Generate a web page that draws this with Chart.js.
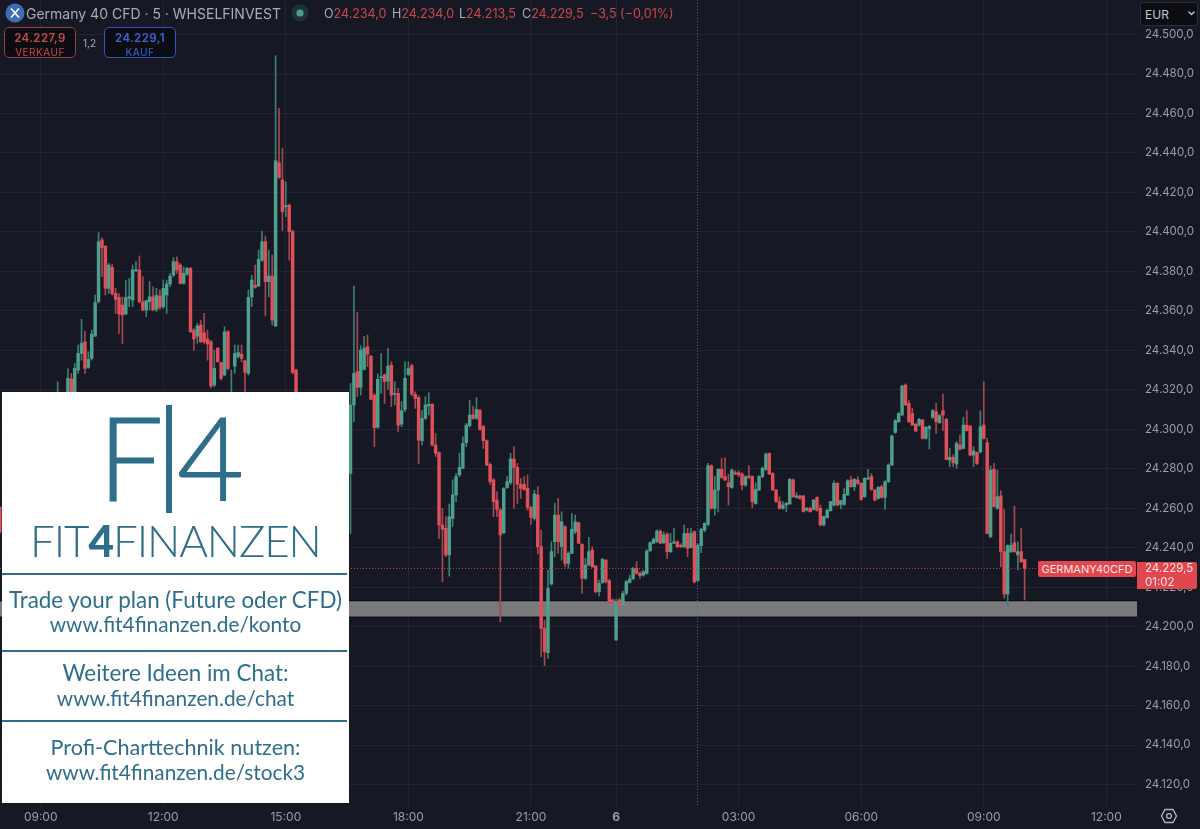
<!DOCTYPE html>
<html>
<head>
<meta charset="utf-8">
<title>Germany 40 CFD</title>
<script src="https://cdn.jsdelivr.net/npm/chart.js@4"></script>
<style>
html, body { margin: 0; padding: 0; background: #161924; }
#wrap { position: relative; width: 1200px; height: 829px; overflow: hidden; font-family: Inter, "Liberation Sans", sans-serif; }
canvas { position: absolute; left: 0; top: 0; }
.abs { position: absolute; white-space: nowrap; }
.red { color: #c9474f; }
.grey { color: #a9adb7; }
.tradebox { position: absolute; top: 27px; width: 70px; height: 29px; border-radius: 5px; background: #0c0d12; text-align: center; }
.tradebox b { display: block; font-size: 11.5px; font-weight: 600; margin-top: 3px; letter-spacing: .4px; }
.tradebox span { display: block; font-size: 10px; margin-top: 1px; letter-spacing: .5px; }
#promo { position: absolute; left: 2px; top: 392px; width: 347px; height: 411px; background: #fff; color: #2f6e8a; font-family: Lato, sans-serif; }
#promo .line { position: absolute; left: 0; width: 345px; height: 2px; background: #2f6e8a; }
#promo .txt { position: absolute; left: 0; width: 347px; text-align: center; line-height: 26px; white-space: nowrap; }
</style>
</head>
<body>
<div id="wrap">
  <canvas id="chart" width="1200" height="829"></canvas>

  <svg class="abs" style="left:5px;top:3px" width="20" height="20"><circle cx="10" cy="10" r="9.5" fill="#3f6db5"/><path d="M6 5.5 L14 14.5 M14 5.5 L6 14.5" stroke="#fff" stroke-width="1.6"/></svg>
  <div class="abs grey" style="left:26px;top:5px;font-size:14px">Germany 40 CFD · 5 · WHSELFINVEST</div>
  <svg class="abs" style="left:291px;top:4px" width="18" height="18"><circle cx="9" cy="9" r="8.5" fill="#1f3336"/><circle cx="9" cy="9" r="3.6" fill="#4f9f8e"/></svg>
  <div class="abs" style="left:324px;top:6px;font-size:12.5px"><span class="grey">O</span><span class="red">24.234,0</span></div>
  <div class="abs" style="left:392px;top:6px;font-size:12.5px"><span class="grey">H</span><span class="red">24.234,0</span></div>
  <div class="abs" style="left:459px;top:6px;font-size:12.5px"><span class="grey">L</span><span class="red">24.213,5</span></div>
  <div class="abs" style="left:522px;top:6px;font-size:12.5px"><span class="grey">C</span><span class="red">24.229,5</span></div>
  <div class="abs red" style="left:590px;top:6px;font-size:12.5px">−3,5 (−0,01%)</div>

  <div class="tradebox" style="left:4px;border:1px solid #96404a;color:#c9474f"><b>24.227,9</b><span>VERKAUF</span></div>
  <div class="abs grey" style="left:83px;top:37px;font-size:10px">1,2</div>
  <div class="tradebox" style="left:104px;border:1px solid #3355c0;color:#3f63d6"><b>24.229,1</b><span>KAUF</span></div>

  <div class="abs" style="left:1140px;top:2px;width:56px;height:22px;background:#0c0d12;border:1px solid #2c2f38;border-radius:3px"></div>
  <div class="abs" style="left:1145px;top:7px;font-size:12px;color:#c5c7cf">EUR</div>
  <svg class="abs" style="left:1187px;top:10px" width="9" height="7"><path d="M1.5 1.5 L4.5 4.5 L7.5 1.5" stroke="#c5c7cf" stroke-width="1.3" fill="none"/></svg>

  <div class="abs" style="left:1038px;top:561px;width:98px;height:16px;background:#e2474f;border-radius:2px;color:#fde3e4;font-size:11px;line-height:16px;text-align:center">GERMANY40CFD</div>
  <div class="abs" style="left:1137px;top:562px;width:52px;height:27px;padding-left:8px;background:#e2474f;border-radius:0 2px 2px 0;color:#fde3e4;font-size:11.5px;line-height:13.5px">24.229,5<br>01:02</div>

  <svg class="abs" style="left:1160px;top:807px" width="18" height="18"><path d="M5 2.5 L13 2.5 L16.5 9 L13 15.5 L5 15.5 L1.5 9 Z" fill="none" stroke="#b2b5be" stroke-width="1.3"/><circle cx="9" cy="9" r="2.4" fill="none" stroke="#b2b5be" stroke-width="1.3"/></svg>

  <div id="promo">
    <div class="abs" style="left:96px;top:7px;font-size:116px;line-height:116px;font-weight:300;-webkit-text-stroke:1px #2f6e8a">F</div>
    <div class="abs" style="left:164px;top:13px;width:6px;height:108px;background:#2f6e8a"></div>
    <div class="abs" style="left:175px;top:7px;font-size:116px;line-height:116px;font-weight:300;-webkit-text-stroke:1px #2f6e8a">4</div>
    <div class="abs" style="left:28px;top:123px;font-size:44px;line-height:50px;font-weight:300;letter-spacing:-1.1px">FIT<b style="font-weight:900">4</b>FINANZEN</div>
    <div class="line" style="top:181px"></div>
    <div class="txt" style="top:195px;font-size:22.4px">Trade your plan (Future oder CFD)</div>
    <div class="txt" style="top:219px;font-size:20.8px">www.fit4finanzen.de/konto</div>
    <div class="line" style="top:258px"></div>
    <div class="txt" style="top:268px;font-size:22.4px">Weitere Ideen im Chat:</div>
    <div class="txt" style="top:293px;font-size:20.8px">www.fit4finanzen.de/chat</div>
    <div class="line" style="top:328px"></div>
    <div class="txt" style="top:342px;font-size:21.6px">Profi-Charttechnik nutzen:</div>
    <div class="txt" style="top:367px;font-size:20.8px">www.fit4finanzen.de/stock3</div>
  </div>
</div>

<script>
// bars hidden behind the promo box have no readable values
const hidden = n => Array(n).fill(null);

const firstBar = -12;
const opens = [24260.6, ...hidden(16), 24312, ...hidden(2),
  24312, 24325.4, 24316, 24330, 24338.4, 24344.3, 24331.3, 24335.9, 24347.2, 24364.6,
  24395.9, 24392.8, 24371.4, 24382, 24368.8, 24366.8, 24362.9, 24358.4, 24366.3, 24365.5,
  24380.3, 24380.7, 24364.6, 24360.4, 24364.6, 24367.1, 24360.7, 24367.5, 24362.1, 24368,
  24373.6, 24378.1, 24384.9, 24383.2, 24373.9, 24378.6, 24381.5, 24350.3, 24347.2, 24352.8,
  24348.9, 24345.7, 24344.3, 24322.4, 24341, 24333.7, 24327.5, 24349.4, 24312, 24332,
  24336.8, 24338, 24334.7, 24328.3, 24367.1, 24373, 24372.6, 24385.7, 24395, 24374.8,
  24377.6, 24352.3, 24435, 24426.3, 24412.8, 24413.6, 24400.1, 24330, ...hidden(15),
  24277.6, 24312.3, 24329.2, 24321.2, 24330.3, 24341.8, 24337, 24317.3, 24301, 24326.1,
  24327.5, 24324.4, 24332.5, 24317.7, 24318.2, 24302.6, 24310, 24327.8, 24332.2, 24317.7,
  24316.1, 24294.2, 24305.5, 24311.8, 24312.6, 24292, 24288.1, 24251.5, 24249.8, 24236.3,
  24254.8, 24266.7, 24276.8, 24280.2, 24293.2, 24301.8, 24307.2, 24305.5, 24309.7, 24301.3,
  24294.2, 24282.2, 24274.3, 24264.1, 24259, 24247.6, 24270.5, 24272.9, 24284.9, 24280.7,
  24272.2, 24272, 24270, 24260.4, 24254.8, 24266.7, 24240.5, 24199.1, 24186.8, 24221.6,
  24243, 24256.5, 24240.5, 24250.6, 24232, 24237.1, 24248, 24252.6, 24241.8, 24224.4,
  24231.2, 24238.8, 24230.7, 24217.7, 24222.2, 24233.7, 24223.3, 24213.5, 24193.2, 24213.5,
  24210.9, 24216.8, 24222.4, 24224.1, 24229.5, 24227, 24226.1, 24227, 24238.5, 24242.2,
  24243, 24248.4, 24242.5, 24246.9, 24238, 24242.2, 24243, 24241.3, 24240.5, 24247.2,
  24240, 24248.1, 24223.3, 24241, 24248.9, 24251.8, 24281.5, 24259.9, 24269.2, 24279.7,
  24276, 24272.9, 24270.5, 24278, 24278, 24277.3, 24271.7, 24276.3, 24276, 24262.4,
  24269.2, 24276, 24279.7, 24287.8, 24277.6, 24269.2, 24263.3, 24259.9, 24261.6, 24262.1,
  24274.3, 24265.5, 24266.2, 24266.2, 24259, 24259.9, 24259.4, 24265.5, 24259.9, 24251.5,
  24255.2, 24258.7, 24261.6, 24272.6, 24261.9, 24261.9, 24266.7, 24274.3, 24270.9, 24274.3,
  24272.6, 24265.8, 24274.8, 24276, 24269.2, 24265, 24270.9, 24265.5, 24273.4, 24281.9,
  24298.4, 24303.8, 24307.2, 24322.4, 24313.1, 24308, 24302.5, 24302.1, 24304.7, 24295.4,
  24300.4, 24306, 24308.9, 24303.3, 24309.4, 24305, 24284.4, 24285.8, 24282.4, 24292,
  24290.3, 24302.1, 24301.6, 24286.9, 24288.3, 24288.6, 24302.1, 24293.2, 24245.6, 24279.7,
  24259.9, 24266.2, 24238, 24216.5, 24238, 24242.5, 24236.3, 24238, 24234];
const highs = [24261, ...hidden(16), 24324, ...hidden(2),
  24330.8, 24328.3, 24333.4, 24342.7, 24355.7, 24349.8, 24339.3, 24350.3, 24368, 24399.7,
  24397, 24393, 24384, 24383.7, 24371.4, 24368.8, 24367.1, 24375.6, 24376.4, 24383.2,
  24384.9, 24387.8, 24377.3, 24365.5, 24374.8, 24372.2, 24371.4, 24370.5, 24375.6, 24375.6,
  24379, 24387, 24387.4, 24384, 24382.3, 24382, 24382, 24351, 24353.6, 24355.3,
  24358.7, 24350.3, 24345, 24340.1, 24341.5, 24334, 24352, 24350, 24330, 24342.7,
  24342.7, 24342.7, 24335, 24370.5, 24378.1, 24383.2, 24390.8, 24400.4, 24397.9, 24390.8,
  24388.3, 24489.3, 24462.6, 24442.3, 24425.4, 24414, 24401, 24330.5, ...hidden(15),
  24323.2, 24372.6, 24359.2, 24342.3, 24346.9, 24347.7, 24337.5, 24318, 24328, 24338.4,
  24328, 24341, 24334.2, 24324.1, 24320.7, 24314, 24334.2, 24334.2, 24333, 24319,
  24317, 24309.4, 24316.5, 24318.5, 24313, 24297.9, 24288.5, 24259.9, 24255.7, 24262.1,
  24274.3, 24277.6, 24287.8, 24296.2, 24303, 24314.8, 24311.8, 24316.1, 24310, 24302,
  24294.6, 24283, 24275, 24268.3, 24260, 24270.5, 24276, 24287.8, 24291.2, 24282.7,
  24275.1, 24276, 24276.8, 24261, 24269.2, 24270.9, 24248.9, 24203.3, 24228.7, 24243,
  24262.4, 24265, 24258.2, 24251, 24238, 24257.4, 24256.5, 24253, 24242, 24234.6,
  24245.2, 24240.5, 24231, 24223.6, 24234.6, 24234, 24224, 24214, 24214, 24214.3,
  24218, 24223.5, 24226, 24230, 24232.9, 24227.8, 24228.5, 24239, 24243, 24245,
  24249, 24249, 24248, 24247.5, 24247.2, 24249.8, 24243.5, 24242, 24251.4, 24249.8,
  24249.8, 24248.5, 24242, 24249.8, 24252.6, 24282.7, 24282, 24276, 24280, 24285.2,
  24285.6, 24277.3, 24280, 24279, 24279, 24278, 24276.5, 24281.5, 24276.5, 24272.9,
  24276.5, 24281, 24288, 24288, 24278, 24269.5, 24265.8, 24263.3, 24263, 24275.1,
  24275, 24267.8, 24266.5, 24266.5, 24260.5, 24260.5, 24264.5, 24265.8, 24261.6, 24256,
  24259.5, 24263.5, 24273.9, 24273, 24264, 24270, 24274.5, 24276.3, 24275, 24276,
  24273, 24275.5, 24279.7, 24277.6, 24269.5, 24271, 24271.7, 24274, 24282.5, 24297,
  24305, 24308.5, 24322.4, 24323, 24314.5, 24310.6, 24303, 24305.5, 24305, 24301.5,
  24302, 24310, 24313.1, 24307.5, 24317.8, 24305.5, 24290.3, 24287, 24293.7, 24297,
  24306, 24309.4, 24302, 24291.2, 24288.5, 24309.4, 24324.1, 24295.4, 24281.4, 24282.7,
  24279.3, 24268.9, 24259.4, 24241.5, 24246.9, 24261.1, 24243, 24249.8, 24234];
const lows = [24247, ...hidden(16), 24310, ...hidden(2),
  24310, 24312, 24314, 24328.3, 24335, 24328.3, 24330.8, 24335, 24347, 24364,
  24377.3, 24368, 24368.8, 24368, 24358.7, 24348.6, 24343.5, 24357.9, 24362.1, 24362.1,
  24379.8, 24364, 24360, 24357, 24360.4, 24360, 24359.5, 24360.7, 24361.2, 24358.7,
  24372.2, 24377.3, 24379, 24373.5, 24373.5, 24378, 24349, 24340.1, 24343.5, 24344,
  24343.5, 24335, 24321, 24321.5, 24334, 24325, 24327, 24330, 24310, 24328.3,
  24336, 24334.2, 24315, 24327.5, 24362.1, 24371.4, 24372.2, 24385, 24357.4, 24367.1,
  24352.8, 24352, 24427.1, 24400.6, 24407.7, 24385.7, 24328, 24305, ...hidden(15),
  24247.2, 24303.8, 24316.5, 24317.3, 24330, 24331.7, 24315, 24291.2, 24300.4, 24318.2,
  24313.1, 24320, 24311.4, 24312.3, 24298.8, 24301.3, 24308.9, 24327, 24317, 24310.6,
  24282.7, 24292, 24305, 24307.2, 24291.5, 24286.1, 24244.7, 24222.8, 24235.4, 24225.6,
  24250.6, 24263.3, 24276, 24280, 24291.2, 24301, 24305, 24305, 24299.5, 24290.3,
  24281.5, 24272, 24255.7, 24255.7, 24202.5, 24247, 24270, 24272, 24259.9, 24262.4,
  24265, 24269, 24259, 24251.8, 24254, 24236.8, 24184.7, 24180.2, 24183.9, 24221,
  24235.4, 24237.1, 24233.7, 24230.3, 24229.5, 24237, 24247, 24242, 24216.8, 24224,
  24231, 24230, 24217, 24215.5, 24222, 24222, 24212, 24212, 24193, 24210,
  24210.5, 24216, 24222, 24224, 24226.5, 24224.4, 24225.5, 24226.5, 24238, 24242,
  24242.5, 24242, 24242, 24234.6, 24237.5, 24242, 24240, 24240, 24240, 24235.4,
  24240, 24222, 24223, 24237.4, 24248, 24251, 24259.5, 24256.5, 24258.2, 24275,
  24274, 24261.6, 24270, 24277, 24276, 24269.2, 24271, 24275, 24260.2, 24262,
  24269, 24275.5, 24279, 24277, 24269, 24263, 24259.5, 24259.5, 24258.2, 24262,
  24265.5, 24265, 24264.5, 24258, 24258.5, 24258, 24259, 24258.5, 24251, 24251,
  24255, 24258.5, 24261, 24261, 24259.6, 24261.5, 24266.5, 24270.5, 24268.9, 24272,
  24264, 24265.5, 24274.5, 24269, 24263.5, 24264.5, 24265, 24259.4, 24273, 24281.5,
  24298, 24303.5, 24307, 24312, 24303.5, 24302, 24298.8, 24301.5, 24295, 24295,
  24290, 24305.5, 24297.9, 24303, 24299.3, 24284.5, 24281, 24281, 24280.2, 24289.5,
  24290, 24299, 24286.5, 24281, 24282, 24287.8, 24295, 24247, 24245, 24260.5,
  24259.5, 24230.3, 24214.3, 24210.4, 24237.5, 24237.5, 24228.7, 24232.5, 24213.5];
const closes = [24248, ...hidden(16), 24316, ...hidden(2),
  24325.8, 24314, 24330.8, 24338.4, 24343.5, 24330.8, 24335.4, 24348.2, 24364.1, 24395,
  24392.1, 24371.4, 24383.2, 24368.8, 24365.8, 24358.4, 24357.9, 24366.8, 24367.1, 24380.7,
  24380.7, 24364.6, 24360.4, 24365.1, 24367.1, 24360.4, 24367.8, 24361.8, 24371.4, 24373.6,
  24377.6, 24384.9, 24380.7, 24373.9, 24379, 24381.5, 24349.4, 24345.7, 24352.3, 24344.3,
  24344.3, 24343.2, 24321.9, 24330.8, 24334.2, 24325.8, 24349.4, 24330.8, 24316, 24338.4,
  24338.8, 24335.9, 24328.8, 24366.8, 24375.6, 24371.9, 24386, 24395, 24374.8, 24377.6,
  24355.3, 24436, 24427.6, 24410.2, 24413.1, 24400.1, 24328.8, 24310, ...hidden(15),
  24312.3, 24328.3, 24321.2, 24340.1, 24341, 24338.1, 24315.1, 24300.8, 24325.3, 24326.6,
  24324.1, 24332, 24317.3, 24318.2, 24302.1, 24309.4, 24325.8, 24330.8, 24317.8, 24315.6,
  24294.5, 24305.5, 24312.3, 24312.6, 24292, 24287.8, 24251.5, 24249.3, 24236.3, 24255.7,
  24266.7, 24276, 24280.7, 24292.8, 24302.1, 24307.2, 24305.5, 24310, 24299.9, 24294.2,
  24281.9, 24273.4, 24263.3, 24259.4, 24246.4, 24270, 24273.4, 24284.9, 24280.7, 24272.2,
  24270, 24269.5, 24260.4, 24255.3, 24267.2, 24240.5, 24199.1, 24187.3, 24219.4, 24238,
  24256.5, 24243, 24253.1, 24232, 24237.1, 24249.3, 24253.1, 24242.2, 24224.4, 24231.2,
  24238, 24230.3, 24217.7, 24221.9, 24234, 24222.8, 24212.6, 24212.6, 24212.6, 24210.4,
  24216.8, 24222.8, 24224.1, 24229.5, 24227, 24225.8, 24227.8, 24238.3, 24242.5, 24244.2,
  24248.4, 24242.2, 24246.4, 24238, 24242.2, 24243, 24240.5, 24240.5, 24247.2, 24239.6,
  24247.2, 24222.7, 24241.3, 24249.3, 24252.3, 24281.5, 24259.9, 24269.2, 24279.7, 24275.6,
  24274.3, 24270.9, 24279.3, 24277.3, 24276.8, 24271.7, 24276, 24275.6, 24263.3, 24269.5,
  24276, 24280.2, 24287.4, 24277.3, 24269.2, 24263.3, 24259.9, 24261.6, 24262.4, 24274.6,
  24265.8, 24266.2, 24265, 24258.2, 24259.9, 24258.2, 24264.1, 24259, 24251.5, 24255.7,
  24259, 24263.3, 24272.6, 24261.6, 24263.8, 24267, 24273.9, 24270.9, 24274.6, 24272.6,
  24264.5, 24275.1, 24275.1, 24269.5, 24264.1, 24270.5, 24265.5, 24273.4, 24281.9, 24296.6,
  24304.3, 24308, 24321.9, 24312.3, 24303.8, 24302.1, 24299.1, 24305, 24295.4, 24301,
  24301.3, 24309.4, 24303.8, 24306.9, 24307.2, 24284.7, 24285.8, 24283, 24292.8, 24289.8,
  24302.1, 24299.3, 24286.9, 24289, 24282.7, 24301.3, 24295.4, 24247.2, 24279.3, 24260.8,
  24265.8, 24238, 24216.5, 24241, 24241.3, 24238, 24238, 24232.9, 24229.5];

const priceTicks = [24120, 24140, 24160, 24180, 24200, 24220, 24240, 24260, 24280, 24300, 24320, 24340,
  24360, 24380, 24400, 24420, 24440, 24460, 24480, 24500];
const timeLabels = ["09:00", "12:00", "15:00", "18:00", "21:00", "6", "03:00", "06:00", "09:00", "12:00"];
const timeBars = [0, 36, 72, 108, 144, 169, 205, 241, 277, 313];

const zoneTop = 24212.9;
const zoneBottom = 24205;
const lastPrice = 24229.5;
const sessionBar = 192.65;

const GREEN = "#4ea08d", RED = "#e0505a";
const GREEN_WICK = "#3d7f74", RED_WICK = "#a34850";

const wicks = [], bodies = [], wickColors = [], bodyColors = [];
opens.forEach((o, n) => {
  if (o === null) return;
  const up = closes[n] >= o;
  wicks.push({ x: firstBar + n, y: [lows[n], highs[n]] });
  bodies.push({ x: firstBar + n, y: [o, closes[n]] });
  wickColors.push(up ? GREEN_WICK : RED_WICK);
  bodyColors.push(up ? GREEN : RED);
});

const priceFmt = v => v.toFixed(1).replace(".", ",").replace(/\B(?=(\d{3})+(?!\d))/, ".");

// support zone sits under the candles, dotted lines above them
const overlays = {
  id: "overlays",
  beforeDatasetsDraw(chart) {
    const { ctx, chartArea: a, scales: { y } } = chart;
    const top = y.getPixelForValue(zoneTop), bot = y.getPixelForValue(zoneBottom);
    ctx.save();
    ctx.fillStyle = "#7a7a7e";
    ctx.fillRect(a.left, top, a.right - a.left, bot - top);
    ctx.fillStyle = "#0a0b10";
    ctx.fillRect(a.left, top - 1, a.right - a.left, 1);
    ctx.fillRect(a.left, bot, a.right - a.left, 1);
    ctx.restore();
  },
  afterDatasetsDraw(chart) {
    const { ctx, chartArea: a, scales: { x, y } } = chart;
    ctx.save();
    ctx.lineWidth = 1;
    ctx.setLineDash([1, 2]);
    ctx.strokeStyle = "#4a63b0";
    const sx = Math.round(x.getPixelForValue(sessionBar)) + 0.5;
    ctx.beginPath(); ctx.moveTo(sx, a.top); ctx.lineTo(sx, a.bottom); ctx.stroke();
    ctx.strokeStyle = "#b0454d";
    const py = Math.round(y.getPixelForValue(lastPrice)) + 0.5;
    ctx.beginPath(); ctx.moveTo(a.left, py); ctx.lineTo(a.right, py); ctx.stroke();
    ctx.restore();
  }
};

new Chart(document.getElementById("chart"), {
  type: "bar",
  plugins: [overlays],
  data: {
    datasets: [
      { data: wicks, backgroundColor: wickColors, barThickness: 1, grouped: false, order: 2 },
      { data: bodies, backgroundColor: bodyColors, barThickness: 2.8, minBarLength: 1, grouped: false, order: 1 }
    ]
  },
  options: {
    responsive: false,
    animation: false,
    events: [],
    layout: { padding: 0, autoPadding: false },
    plugins: { legend: { display: false }, tooltip: { enabled: false } },
    scales: {
      x: {
        type: "linear",
        offset: false,
        min: -11.95,
        max: 322,
        grid: { color: "#222531", drawTicks: false, offset: false },
        border: { display: false },
        afterBuildTicks: axis => { axis.ticks = timeBars.map(v => ({ value: v })); },
        afterFit: axis => { axis.height = 23; axis.paddingLeft = 0; axis.paddingRight = 0; },
        ticks: {
          autoSkip: false,
          maxRotation: 0,
          padding: 4,
          color: "#9a9ea8",
          font: ctx => ({ family: "Inter", size: 12, weight: timeLabels[ctx.index] === "6" ? "bold" : "normal" }),
          callback: (v, i) => timeLabels[i]
        }
      },
      y: {
        position: "right",
        min: 24109.1,
        max: 24517.5,
        grid: { color: "#222531", drawTicks: false },
        border: { display: false },
        afterBuildTicks: axis => { axis.ticks = priceTicks.map(v => ({ value: v })); },
        // label padding would otherwise push the plot area down from the top edge
        afterFit: axis => { axis.width = 63; axis.paddingTop = 0; axis.paddingBottom = 0; },
        ticks: {
          autoSkip: false,
          padding: 8,
          color: "#9a9ea8",
          font: { family: "Inter", size: 11.5 },
          callback: v => priceFmt(v)
        }
      }
    }
  }
});
</script>
</body>
</html>
